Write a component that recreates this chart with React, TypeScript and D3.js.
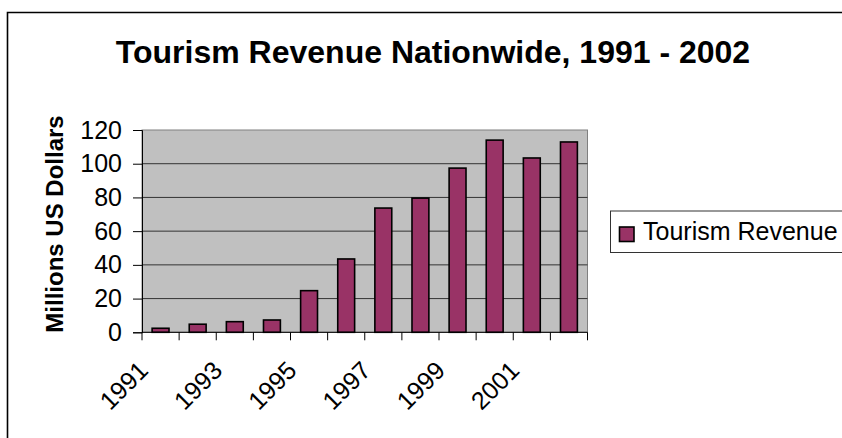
import React, { useEffect, useRef } from 'react';
import * as d3 from 'd3';

// chart data
const years = ['1991', '1992', '1993', '1994', '1995', '1996', '1997', '1998', '1999', '2000', '2001', '2002'];
const revenue = [2.4, 4.8, 6.3, 7.3, 24.7, 43.5, 73.7, 79.6, 97.4, 114, 103.4, 112.9];
const yTicks = [0, 20, 40, 60, 80, 100, 120];
const shownYears = ['1991', '1993', '1995', '1997', '1999', '2001'];

const seriesName = 'Tourism Revenue';
const title = 'Tourism Revenue Nationwide, 1991 - 2002';
const yTitle = 'Millions US Dollars';

const W = 842;
const H = 438;

export default function App() {
  const ref = useRef<SVGSVGElement>(null);

  useEffect(() => {
    const svg = d3.select(ref.current);
    svg.selectAll('*').remove();

    const font = 'Arial, "Liberation Sans", sans-serif';
    const left = 142, right = 587.5, top = 130, bottom = 332.3;

    const x = d3.scaleBand<string>().domain(years).range([left, right]).paddingInner(0.545).paddingOuter(0.2725);
    const band = d3.scaleBand<string>().domain(years).range([left, right]);
    const y = d3.scaleLinear().domain([0, 120]).range([bottom, top]);

    // outer chart border (only top and left visible)
    svg.append('path')
      .attr('d', `M7.5,${H + 5} L7.5,12.5 L${W + 5},12.5`)
      .attr('fill', 'none')
      .attr('stroke', '#000')
      .attr('stroke-width', 1.6);

    // title
    svg.append('text')
      .attr('x', 433)
      .attr('y', 63)
      .attr('text-anchor', 'middle')
      .attr('font-family', font)
      .attr('font-weight', 'bold')
      .attr('font-size', 32)
      .text(title);

    // plot area
    svg.append('rect')
      .attr('x', left).attr('y', top)
      .attr('width', right - left).attr('height', bottom - top)
      .attr('fill', '#c0c0c0')
      .attr('stroke', '#808080')
      .attr('stroke-width', 1);

    // gridlines
    svg.append('g').selectAll('line')
      .data(yTicks.filter(d => d > 0 && d < 120))
      .enter().append('line')
      .attr('x1', left).attr('x2', right)
      .attr('y1', d => y(d)).attr('y2', d => y(d))
      .attr('stroke', '#333')
      .attr('stroke-width', 1);

    // bars
    svg.append('g').selectAll('rect')
      .data(revenue)
      .enter().append('rect')
      .attr('x', (d, i) => x(years[i])!)
      .attr('y', d => y(d))
      .attr('width', x.bandwidth())
      .attr('height', d => bottom - y(d))
      .attr('fill', '#993366')
      .attr('stroke', '#000')
      .attr('stroke-width', 1.6);

    // y axis
    const yAxis = svg.append('g')
      .attr('transform', `translate(${left},0)`)
      .call(d3.axisLeft(y).tickValues(yTicks).tickSize(9).tickPadding(11));
    yAxis.select('.domain').attr('stroke', '#000');
    yAxis.selectAll('line').attr('stroke', '#000');
    yAxis.selectAll('text')
      .attr('font-family', font)
      .attr('font-size', 25)
      .attr('fill', '#000');

    // x axis: ticks at category boundaries
    const bounds = years.map(d => band(d)!).concat([right]);
    svg.append('line')
      .attr('x1', left).attr('x2', right)
      .attr('y1', bottom).attr('y2', bottom)
      .attr('stroke', '#000');
    svg.append('g').selectAll('line')
      .data(bounds)
      .enter().append('line')
      .attr('x1', d => d).attr('x2', d => d)
      .attr('y1', bottom).attr('y2', bottom + 8)
      .attr('stroke', '#000');

    svg.append('g').selectAll('text')
      .data(shownYears)
      .enter().append('text')
      .attr('transform', d => `translate(${band(d)! + band.bandwidth() / 2 - 11},${372}) rotate(-45)`)
      .attr('text-anchor', 'end')
      .attr('font-family', font)
      .attr('font-size', 25)
      .text(d => d);

    // y title
    svg.append('text')
      .attr('transform', `translate(62.5,224) rotate(-90)`)
      .attr('text-anchor', 'middle')
      .attr('font-family', font)
      .attr('font-weight', 'bold')
      .attr('font-size', 24)
      .text(yTitle);

    // legend
    const lg = svg.append('g');
    lg.append('rect')
      .attr('x', 610.5).attr('y', 211)
      .attr('width', 260).attr('height', 41.5)
      .attr('fill', '#fff')
      .attr('stroke', '#333')
      .attr('stroke-width', 1);
    lg.append('rect')
      .attr('x', 619.5).attr('y', 227)
      .attr('width', 14.5).attr('height', 14.5)
      .attr('fill', '#993366')
      .attr('stroke', '#000')
      .attr('stroke-width', 1.6);
    lg.append('text')
      .attr('x', 643)
      .attr('y', 240)
      .attr('font-family', font)
      .attr('font-size', 25)
      .text(seriesName);
  }, []);

  return (
    <svg
      ref={ref}
      width={W}
      height={H}
      style={{ position: 'absolute', left: 0, top: 0, background: '#fff' }}
    />
  );
}
